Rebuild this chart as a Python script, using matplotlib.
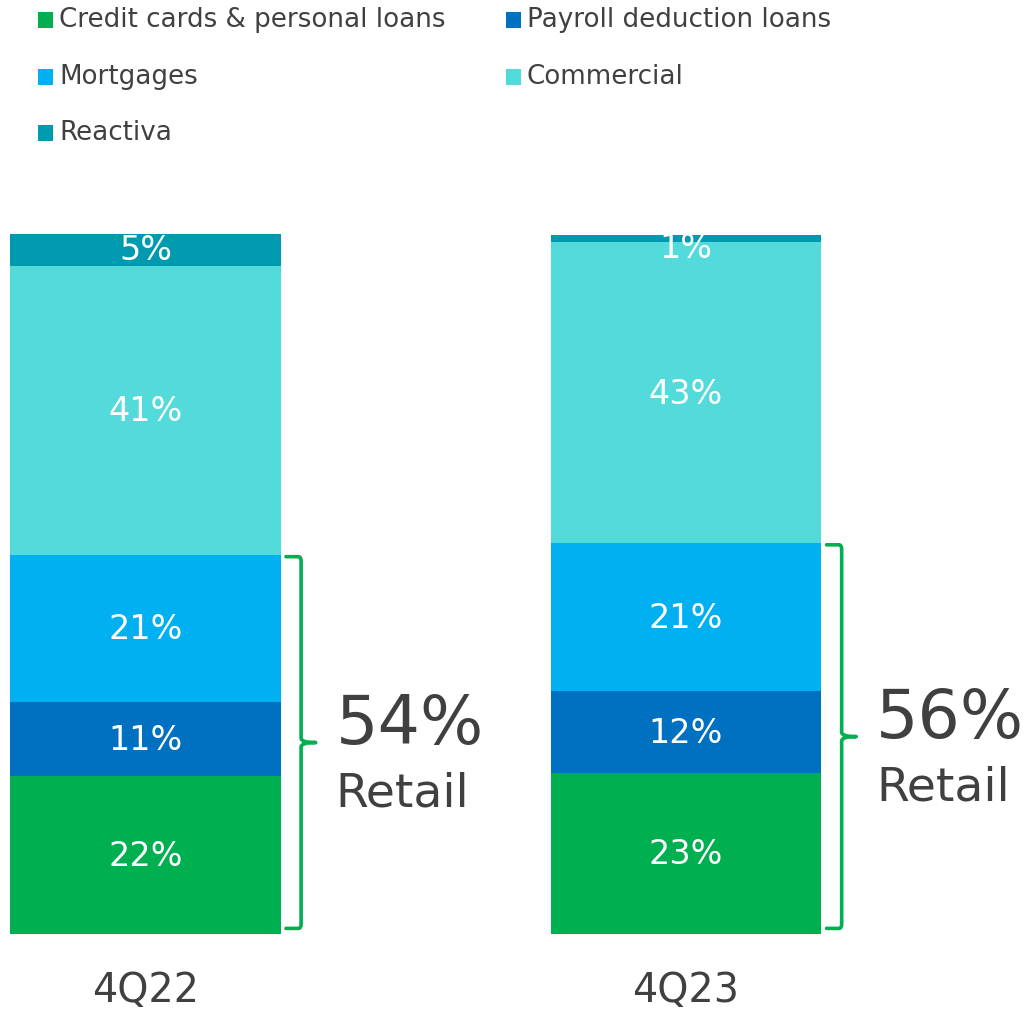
import matplotlib.pyplot as plt
from matplotlib.patches import Rectangle, PathPatch
from matplotlib.path import Path

periods = ["4Q22", "4Q23"]
segments = ["Credit cards & personal loans", "Payroll deduction loans",
            "Mortgages", "Commercial", "Reactiva"]

# share of the portfolio (%)
credit_cards = [22.6, 23.0]
payroll = [10.6, 11.7]
mortgages = [20.9, 21.1]
commercial = [41.4, 43.0]
reactiva = [4.6, 1.1]

# printed labels
credit_cards_lbl = ["22%", "23%"]
payroll_lbl = ["11%", "12%"]
mortgages_lbl = ["21%", "21%"]
commercial_lbl = ["41%", "43%"]
reactiva_lbl = ["5%", "1%"]
retail_lbl = ["54%", "56%"]

colors = ["#00B050", "#0070C0", "#00B0F0", "#53DBDC", "#009AB0"]
text_gray = "#404040"

plt.rcParams['font.family'] = ['DejaVu Sans']

fig = plt.figure(figsize=(10.36, 10.10), dpi=100)
ax = fig.add_axes([0, 76 / 1010, 1, 700 / 1010])
ax.set_xlim(-0.269, 1.6475)
ax.set_ylim(0, 100)
ax.axis("off")

series = [credit_cards, payroll, mortgages, commercial, reactiva]
labels = [credit_cards_lbl, payroll_lbl, mortgages_lbl, commercial_lbl, reactiva_lbl]
width = 0.5
x = list(range(len(periods)))

bottom = [0.0] * len(periods)
for vals, lbls, col in zip(series, labels, colors):
    ax.bar(x, vals, width=width, bottom=bottom, color=col, linewidth=0)
    for i, (v, b, t) in enumerate(zip(vals, bottom, lbls)):
        dy = -7 if v < 3 else -1
        ax.annotate(t, (i, b + v / 2), xytext=(0, dy), textcoords="offset points",
                    ha="center", va="center", color="white", fontsize=24)
    bottom = [b + v for b, v in zip(bottom, vals)]

# category labels under the bars
for i, p in enumerate(periods):
    ax.annotate(p, (i, 0), xytext=(0, -41), textcoords="offset points",
                ha="center", va="center", color=text_gray, fontsize=28.5,
                annotation_clip=False)


def brace(ax, x0, y0, y1, color):
    xh, xv, xt = x0 + 0.010, x0 + 0.038, x0 + 0.065
    ym = (y0 + y1) / 2
    r = 0.6
    dx = 0.005
    verts = [(xh, y1), (xv - dx, y1), (xv, y1), (xv, y1 - r),
             (xv, ym + r), (xv, ym), (xt, ym),
             (xv, ym), (xv, ym - r),
             (xv, y0 + r), (xv, y0), (xv - dx, y0), (xh, y0)]
    codes = [Path.MOVETO, Path.LINETO, Path.CURVE3, Path.CURVE3,
             Path.LINETO, Path.CURVE3, Path.CURVE3,
             Path.CURVE3, Path.CURVE3,
             Path.LINETO, Path.CURVE3, Path.CURVE3, Path.LINETO]
    ax.add_patch(PathPatch(Path(verts, codes), fill=False, edgecolor=color,
                           linewidth=2.6, capstyle="round", joinstyle="round"))
    return ym


for i in x:
    retail_total = credit_cards[i] + payroll[i] + mortgages[i]
    edge = i + width / 2
    ym = brace(ax, edge, 0.8, retail_total - 0.2, colors[0])
    ax.text(edge + 0.102, ym + 2.5, retail_lbl[i], ha="left", va="center",
            color=text_gray, fontsize=48)
    ax.text(edge + 0.102, ym - 7.4, "Retail", ha="left", va="center",
            color=text_gray, fontsize=34)

# legend, laid out row by row
legend_pos = [(38, 20), (506, 20), (38, 77), (506, 77), (38, 133)]
W, H = 1036, 1010
for name, col, (px, py) in zip(segments, colors, legend_pos):
    fig.patches.append(Rectangle((px / W, (H - py - 7.5) / H), 15 / W, 15 / H,
                                 transform=fig.transFigure, color=col,
                                 linewidth=0))
    fig.text((px + 21) / W, (H - py) / H, name, ha="left", va="center",
             color=text_gray, fontsize=18.8)

fig.savefig("out.png", dpi=100)
